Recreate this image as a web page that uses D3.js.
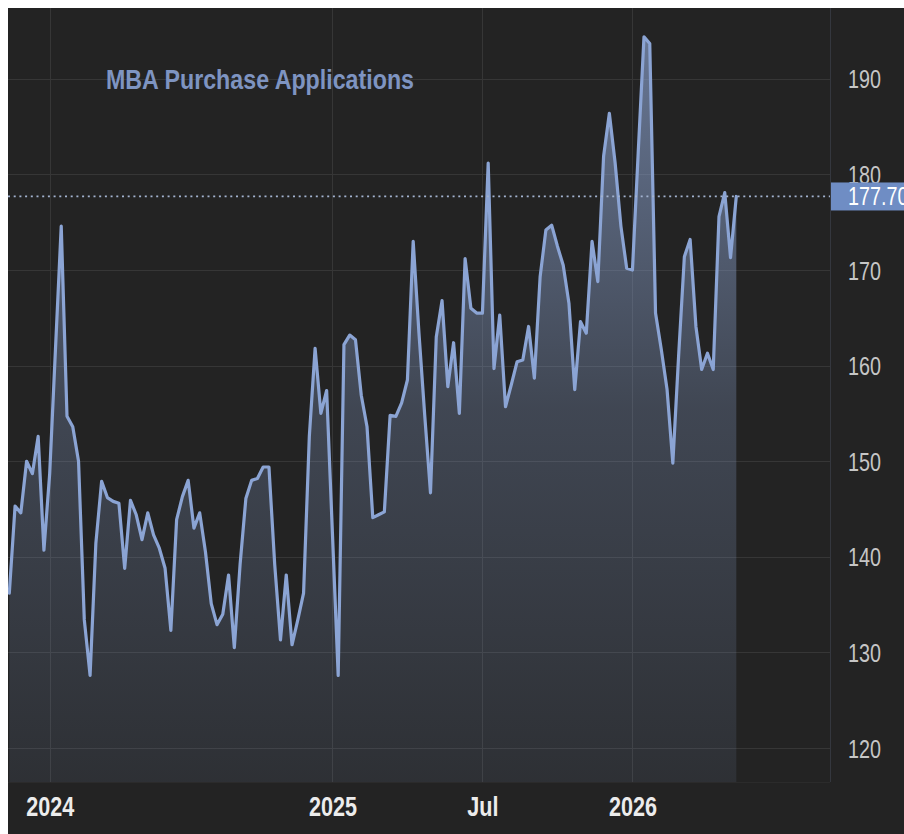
<!DOCTYPE html>
<html>
<head>
<meta charset="utf-8">
<script src="https://cdn.jsdelivr.net/npm/d3@7"></script>
<style>
  html, body { margin: 0; padding: 0; background: #ffffff; }
  svg { display: block; }
</style>
</head>
<body>
<svg id="chart" width="904" height="834"></svg>
<script>
// ---- data (weekly index values) ----
const values = [
  136.2, 145.3, 144.6, 150.0, 148.7, 152.6, 140.7, 148.7, 161.7, 174.6,
  154.7, 153.6, 150.0, 133.4, 127.6, 141.4, 147.9, 146.2, 145.8, 145.6,
  138.8, 145.9, 144.4, 141.8, 144.6, 142.3, 140.9, 138.8, 132.3, 143.9,
  146.3, 148.0, 143.0, 144.6, 140.5, 135.1, 132.9, 134.0, 138.1, 130.5,
  139.2, 146.1, 148.0, 148.2, 149.4, 149.4, 139.2, 131.3, 138.1, 130.8,
  133.4, 136.2, 152.6, 161.8, 155.0, 157.4, 142.5, 127.6, 162.2, 163.2,
  162.7, 156.9, 153.6, 144.1, 144.4, 144.7, 154.8, 154.7, 156.1, 158.5,
  173.0, 163.4, 154.8, 146.7, 163.0, 166.8, 157.8, 162.4, 155.0, 171.2,
  166.0, 165.5, 165.5, 181.2, 159.7, 165.3, 155.7, 158.0, 160.4, 160.6,
  164.1, 158.7, 169.3, 174.2, 174.7, 172.5, 170.5, 166.5, 157.5, 164.6,
  163.4, 173.0, 168.8, 181.9, 186.4, 181.2, 174.6, 170.2, 170.0, 182.3,
  194.4, 193.7, 165.5, 161.7, 157.5, 149.8, 161.0, 171.4, 173.2, 164.1,
  159.6, 161.3, 159.6, 175.6, 178.1, 171.3, 177.7
];
const xTickIndex  = [7, 56, 82, 108];
const xTickLabels = ["2024", "2025", "Jul", "2026"];
const yTicks      = [120, 130, 140, 150, 160, 170, 180, 190];
const titleText   = "MBA Purchase Applications";
const lastValue   = values[values.length - 1];

// ---- layout ----
const W = 904, H = 834;
const plot = { left: 8, top: 8, right: 830, bottom: 782 };
const BG = "#232323";
const LINE = "#8ba4d4";
const FONT = "'Liberation Sans', Arial, sans-serif";

// condense text horizontally (reference uses a narrow face)
function condense(sel, k) {
  sel.each(function () {
    const w = this.getComputedTextLength();
    d3.select(this).attr("textLength", w * k).attr("lengthAdjust", "spacingAndGlyphs");
  });
}

const svg = d3.select("#chart");

const x = d3.scaleLinear().domain([0, values.length - 1]).range([9.3, 736.3]);
const y = d3.scaleLinear().domain([120, 190]).range([748, 78.9]);

// background
svg.append("rect").attr("x", 0).attr("y", 0).attr("width", W).attr("height", H).attr("fill", "#ffffff");
svg.append("rect").attr("x", plot.left).attr("y", plot.top).attr("width", W - plot.left).attr("height", H - plot.top).attr("fill", BG);

const defs = svg.append("defs");
defs.append("clipPath").attr("id", "clip")
  .append("rect").attr("x", plot.left).attr("y", plot.top)
  .attr("width", plot.right - plot.left).attr("height", plot.bottom - plot.top);

const grad = defs.append("linearGradient").attr("id", "fillGrad")
  .attr("gradientUnits", "userSpaceOnUse")
  .attr("x1", 0).attr("x2", 0).attr("y1", y(d3.max(values))).attr("y2", plot.bottom);
grad.append("stop").attr("offset", 0).attr("stop-color", "#8ea6d4").attr("stop-opacity", 0.64);
grad.append("stop").attr("offset", 0.5).attr("stop-color", "#8ea6d4").attr("stop-opacity", 0.27);
grad.append("stop").attr("offset", 1).attr("stop-color", "#8ea6d4").attr("stop-opacity", 0.1);

// gridlines
const grid = svg.append("g");
grid.selectAll("line.h").data(yTicks).join("line")
  .attr("x1", plot.left).attr("x2", plot.right)
  .attr("y1", d => Math.round(y(d)) + 0.5).attr("y2", d => Math.round(y(d)) + 0.5)
  .attr("stroke", "#363636").attr("stroke-width", 1);
grid.selectAll("line.v").data(xTickIndex).join("line")
  .attr("x1", d => Math.round(x(d)) + 0.5).attr("x2", d => Math.round(x(d)) + 0.5)
  .attr("y1", plot.top).attr("y2", plot.bottom)
  .attr("stroke", "#363636").attr("stroke-width", 1);

// area + line
const g = svg.append("g").attr("clip-path", "url(#clip)");
const area = d3.area().x((d, i) => x(i)).y0(plot.bottom).y1(d => y(d));
const line = d3.line().x((d, i) => x(i)).y(d => y(d));
g.append("path").datum(values).attr("d", area).attr("fill", "url(#fillGrad)");
g.append("path").datum(values).attr("d", line)
  .attr("fill", "none").attr("stroke", LINE).attr("stroke-width", 3.2)
  .attr("stroke-linejoin", "round").attr("stroke-linecap", "round");

// last value dotted line
svg.append("line")
  .attr("x1", plot.left).attr("x2", plot.right)
  .attr("y1", y(lastValue)).attr("y2", y(lastValue))
  .attr("stroke", "#a3b3d0").attr("stroke-width", 1.8)
  .attr("stroke-dasharray", "2,3.7");

// axis frame
svg.append("line").attr("x1", plot.right + 0.5).attr("x2", plot.right + 0.5)
  .attr("y1", plot.top).attr("y2", plot.bottom).attr("stroke", "#34373e");
svg.append("line").attr("x1", plot.left).attr("x2", plot.right)
  .attr("y1", plot.bottom + 0.5).attr("y2", plot.bottom + 0.5).attr("stroke", "#2b2b2b");

// right axis
const yAxis = d3.axisRight(y).tickValues(yTicks).tickSize(0).tickPadding(0).tickFormat(d3.format("d"));
const ya = svg.append("g").attr("transform", `translate(848,0)`).call(yAxis);
ya.select(".domain").remove();
ya.selectAll("text").attr("fill", "#c6c6c6").style("font-family", FONT).style("font-size", "25px").attr("dy", "0.36em")
  .call(condense, 0.79);

// last value tag
svg.append("rect").attr("x", plot.right + 1).attr("y", y(lastValue) - 14)
  .attr("width", W - plot.right - 1).attr("height", 28).attr("fill", "#6f8dc4");
svg.append("text").attr("x", 848).attr("y", y(lastValue)).attr("dy", "0.36em")
  .attr("fill", "#ffffff").style("font-family", FONT).style("font-size", "25px")
  .text(lastValue.toFixed(2))
  .call(condense, 0.79);

// bottom axis
const xAxis = d3.axisBottom(x).tickValues(xTickIndex).tickSize(0).tickPadding(0)
  .tickFormat((d, i) => xTickLabels[i]);
const xa = svg.append("g").attr("transform", `translate(0,797)`).call(xAxis);
xa.select(".domain").remove();
xa.selectAll("text").attr("fill", "#ececec").attr("dy", "0.71em")
  .style("font-family", FONT).style("font-size", "27px").style("font-weight", "bold")
  .call(condense, 0.8);

// title
svg.append("text").attr("x", 106).attr("y", 89)
  .attr("fill", "#7e94c1").style("font-family", FONT).style("font-size", "28px").style("font-weight", "bold")
  .text(titleText)
  .attr("textLength", 308).attr("lengthAdjust", "spacingAndGlyphs");
</script>
</body>
</html>
